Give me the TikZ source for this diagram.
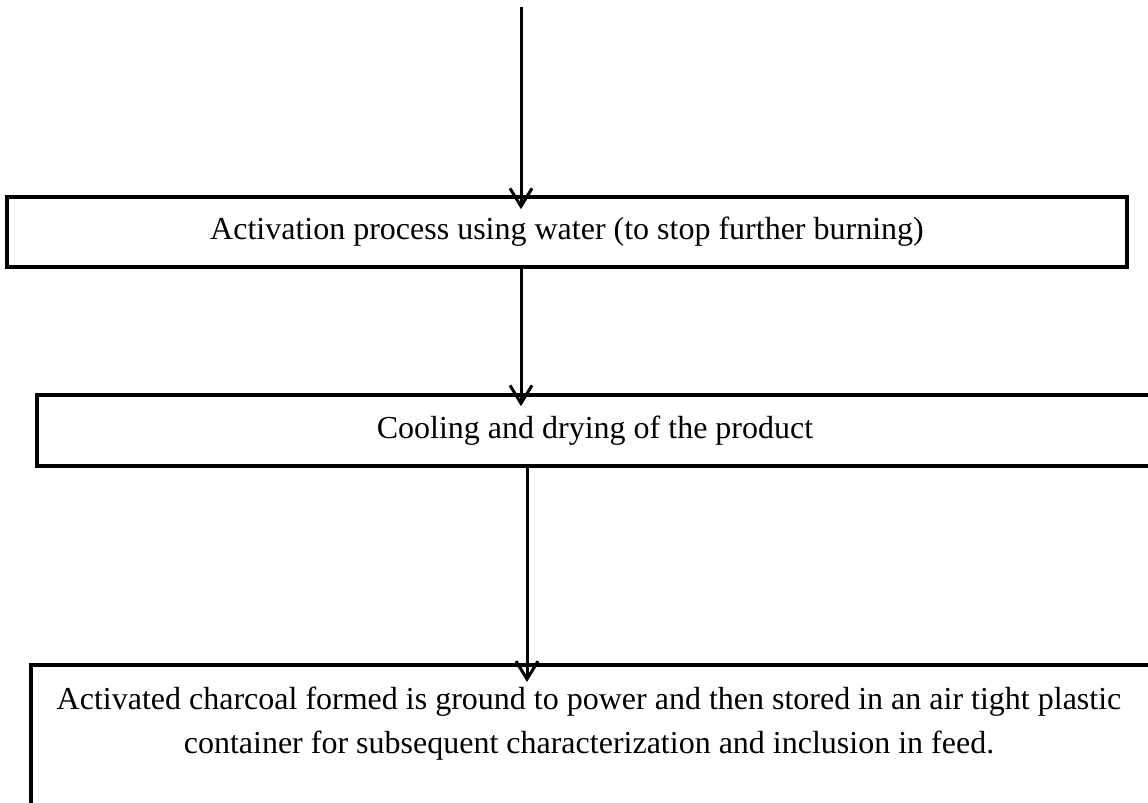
\documentclass[tikz,border=0pt]{standalone}
\usepackage{fontspec}
\setmainfont{Liberation Serif}
\usetikzlibrary{arrows.meta}

\begin{document}
\begin{tikzpicture}[
    x=0.5pt, y=-0.5pt,
    every node/.style={font=\fontsize{16}{22}\selectfont},
    stepbox/.style={draw, line width=1.8pt, inner sep=0pt},
    flow/.style={draw, line width=1.5pt, -{Straight Barb[length=9pt, width=11pt, line width=1.5pt]}}
]
\useasboundingbox (0,0) rectangle (1148,803);
\coordinate (start) at (521,7);
\coordinate (lower) at (527,467);
\node[stepbox, minimum width=560pt, minimum height=35pt] (activation) at (567,232) {Activation process using water (to stop further burning)};
\node[stepbox, minimum width=558pt, minimum height=35.5pt] (cooling) at (595,430.5) {Cooling and drying of the product};
\node[stepbox, minimum width=561pt, minimum height=75pt, anchor=north west] (storage) at (29,663) {};
\node[align=center, anchor=north] (storagetext) at (589,680) {Activated charcoal formed is ground to power and then stored in an air tight plastic\\
    container for subsequent characterization and inclusion in feed.};
\draw[flow, shorten >=-7pt] (start) -- (start |- activation.north);
\draw[flow, shorten >=-6.5pt] (activation.south -| start) -- (cooling.north -| start);
\draw[flow, shorten >=-9.5pt] (lower) -- (lower |- storage.north);
\end{tikzpicture}
\end{document}
